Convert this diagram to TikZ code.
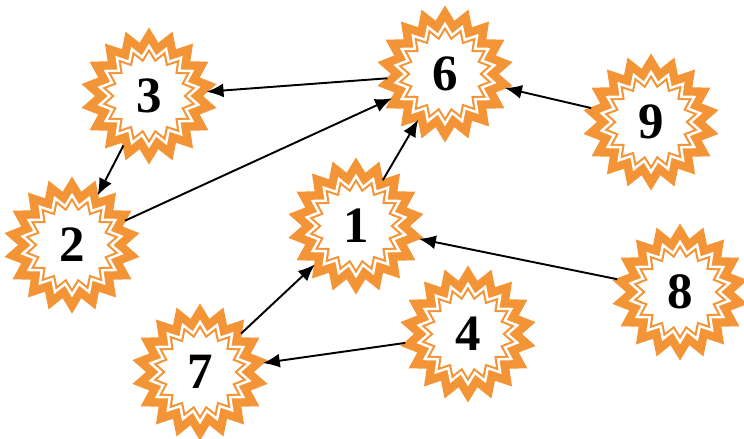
\documentclass[tikz,border=0pt]{standalone}
\usepackage{fontspec}
\setmainfont{Liberation Serif}
\usepackage{xcolor}
\usetikzlibrary{shapes.geometric,arrows.meta}

\definecolor{burstorange}{RGB}{243,148,54}

\begin{document}
\begin{tikzpicture}[x=0.02cm, y=-0.02cm,
        burst/.style={star, star points=18, star point ratio=1.27,
            minimum size=2.0cm, inner sep=0pt, outer sep=5pt,
            fill=white, draw=burstorange, line width=1.2pt,
            double=white, double distance=1.4pt,
            preaction={draw=burstorange, line width=11pt},
            font=\fontsize{29}{34}\selectfont\bfseries},
        link/.style={-{Latex[length=3.4mm, width=2.8mm]}, line width=1.1pt}]
        % Fix the margins
        \useasboundingbox (0,0) rectangle (744,439);

        % Place the starbursts
        \foreach \n/\x/\y in {
            6/445/74,
            3/149/96,
            9/651/122,
            2/72/245,
            1/356/226,
            8/680/292,
            4/468/334,
            7/200/372}{
            \node[burst] (burst-\n) at (\x,\y) {\n};
        }

        % Connect them
        \foreach \a/\b in {6/3, 3/2, 2/6, 1/6, 9/6, 8/1, 7/1, 4/7}{
            \draw[link] (burst-\a) -- (burst-\b);
        }
\end{tikzpicture}
\end{document}
